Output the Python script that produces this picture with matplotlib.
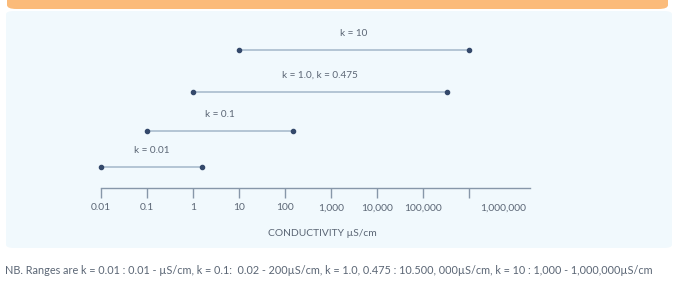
import numpy as np
import matplotlib
matplotlib.use("Agg")
import matplotlib.pyplot as plt
from matplotlib.patches import FancyBboxPatch

plt.rcParams['font.family'] = ['Lato', 'DejaVu Sans']

# Ranges of each cell constant (uS/cm)
range_labels = ["k = 0.01", "k = 0.1", "k = 1.0, k = 0.475", "k = 10"]
range_low = [0.01, 0.1, 1.0, 10.0]
range_high = [1.6, 146.0, 340000.0, 1000000.0]
row_heights = [21.3, 57.3, 96.3, 138.0]  # px above the axis line

tick_values = [0.01, 0.1, 1, 10, 100, 1000, 10000, 100000, 1000000]
tick_labels = ["0.01", "0.1", "1", "10", "100", "1,000", "10,000", "100,000", ""]
last_label = "1,000,000"

footer = ("NB. Ranges are k = 0.01 : 0.01 - \u00b5S/cm, k = 0.1:  0.02 - 200\u00b5S/cm, "
          "k = 1.0, 0.475 : 10.500, 000\u00b5S/cm, k = 10 : 1,000 - 1,000,000\u00b5S/cm")

W, H = 679, 282
text_col = "#5b6675"
line_col = "#a3b7ca"
dot_col = "#34496b"
axis_col = "#8797a9"

fig = plt.figure(figsize=(W / 100, H / 100), dpi=100)
fig.patch.set_facecolor("white")

def fx(px):
    return px / W

def fy(py):
    return 1 - py / H

# orange banner (only its bottom shows) and light blue panel
banner = FancyBboxPatch((fx(7), fy(9)), fx(661), 30 / H, transform=fig.transFigure,
                        boxstyle="round,pad=0,rounding_size=0.014", fc="#fbbb7a", ec="none",
                        zorder=-10)
panel = FancyBboxPatch((fx(6), fy(248)), fx(666), 237 / H, transform=fig.transFigure,
                       boxstyle="round,pad=0,rounding_size=0.012", fc="#f1f9fd", ec="none",
                       zorder=-11)
fig.patches.extend([panel, banner])

ax = fig.add_axes([fx(101), fy(188), fx(429), 158 / H])
ax.set_facecolor("none")
ax.set_xscale("log")
ax.set_xlim(0.01, 10 ** (-2 + 429 / 46))
ax.set_ylim(0, 158)

for lab, lo, hi, y in zip(range_labels, range_low, range_high, row_heights):
    ax.plot([lo, hi], [y, y], color=line_col, lw=1.1, solid_capstyle="butt", zorder=2)
    ax.plot([lo, hi], [y, y], ls="none", marker="o", ms=3, color=dot_col, zorder=3,
            clip_on=False)
    ax.text(np.sqrt(lo * hi), y + 16.5, lab, ha="center", va="center",
            fontsize=7.2, color=text_col)

for s in ["top", "right", "left"]:
    ax.spines[s].set_visible(False)
ax.spines["bottom"].set_color(axis_col)
ax.spines["bottom"].set_linewidth(1.0)
ax.set_yticks([])
ax.set_xticks(tick_values)
ax.set_xticklabels(tick_labels)
ax.minorticks_off()
ax.tick_params(axis="x", direction="out", length=7, width=1.0, color=axis_col,
               labelsize=7.4, labelcolor=text_col, pad=4)
ax.annotate(last_label, xy=(tick_values[-1], 0), xycoords=("data", "axes fraction"),
            xytext=(34, -20), textcoords="offset pixels", ha="center", va="center",
            fontsize=7.4, color=text_col, annotation_clip=False)

fig.text(fx(322), fy(233), "CONDUCTIVITY \u00b5S/cm", ha="center", va="center",
         fontsize=7.4, color=text_col)
fig.text(fx(5), fy(270), footer, ha="left", va="center", fontsize=7.85, color=text_col)

fig.savefig("out.png", dpi=100)
